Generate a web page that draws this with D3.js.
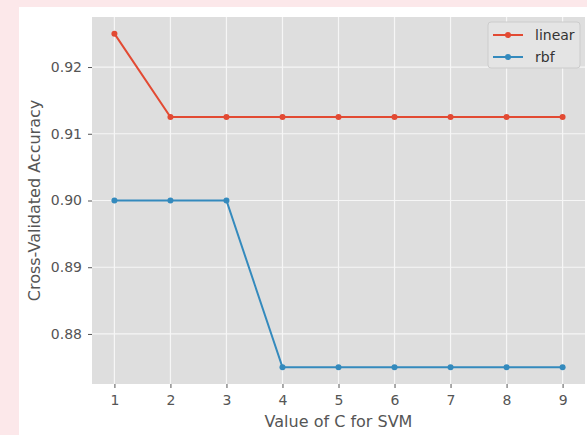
<!DOCTYPE html>
<html>
<head>
<meta charset="utf-8">
<script src="https://cdn.jsdelivr.net/npm/d3@7"></script>
<style>
  body { margin: 0; background: #fce8ea; }
  svg { display: block; }
  text { font-family: "DejaVu Sans", sans-serif; }
  .axes .domain { display: none; }
  .axes text { fill: #555555; font-size: 14px; }
  .axes line { stroke: #555555; }
</style>
</head>
<body>
<div id="chart"></div>
<script>
// data
var cValues = [1, 2, 3, 4, 5, 6, 7, 8, 9];
var linearScores = [0.925, 0.9125, 0.9125, 0.9125, 0.9125, 0.9125, 0.9125, 0.9125, 0.9125];
var rbfScores = [0.9, 0.9, 0.9, 0.875, 0.875, 0.875, 0.875, 0.875, 0.875];
var yTicks = [0.88, 0.89, 0.90, 0.91, 0.92];
var seriesNames = ["linear", "rbf"];
var seriesColors = ["#E24A33", "#348ABD"];

var width = 587, height = 435;
var plot = {left: 92, right: 585, top: 17, bottom: 384};

var svg = d3.select("#chart").append("svg")
    .attr("width", width)
    .attr("height", height);

// pink page border, white figure
svg.append("rect")
    .attr("x", 0).attr("y", 0)
    .attr("width", width).attr("height", height)
    .attr("fill", "#fce8ea");
svg.append("rect")
    .attr("x", 19).attr("y", 7)
    .attr("width", width - 19).attr("height", height - 7)
    .attr("fill", "#ffffff");

// Scales (matplotlib style 5% margins)
var xPad = (d3.max(cValues) - d3.min(cValues)) * 0.05;
var xScale = d3.scaleLinear()
    .domain([d3.min(cValues) - xPad, d3.max(cValues) + xPad])
    .range([plot.left, plot.right]);

var allY = linearScores.concat(rbfScores);
var yPad = (d3.max(allY) - d3.min(allY)) * 0.05;
var yScale = d3.scaleLinear()
    .domain([d3.min(allY) - yPad, d3.max(allY) + yPad])
    .range([plot.bottom, plot.top]);

// plot background
svg.append("rect")
    .attr("x", plot.left).attr("y", plot.top)
    .attr("width", plot.right - plot.left)
    .attr("height", plot.bottom - plot.top)
    .attr("fill", "#dedede");

// grid
svg.append("g").selectAll("line.vgrid")
    .data(cValues).enter().append("line")
    .attr("x1", function(d) { return xScale(d); })
    .attr("x2", function(d) { return xScale(d); })
    .attr("y1", plot.top).attr("y2", plot.bottom)
    .attr("stroke", "#f6f6f6").attr("stroke-width", 1.2);
svg.append("g").selectAll("line.hgrid")
    .data(yTicks).enter().append("line")
    .attr("y1", function(d) { return yScale(d); })
    .attr("y2", function(d) { return yScale(d); })
    .attr("x1", plot.left).attr("x2", plot.right)
    .attr("stroke", "#f6f6f6").attr("stroke-width", 1.2);

// Axes
var xAxis = d3.axisBottom(xScale)
    .tickValues(cValues)
    .tickFormat(d3.format("d"))
    .tickSize(4)
    .tickPadding(7);
svg.append("g")
    .attr("class", "x-axis axes")
    .attr("transform", "translate(0," + plot.bottom + ")")
    .call(xAxis);

var yAxis = d3.axisLeft(yScale)
    .tickValues(yTicks)
    .tickFormat(d3.format(".2f"))
    .tickSize(4)
    .tickPadding(6);
svg.append("g")
    .attr("class", "y-axis axes")
    .attr("transform", "translate(" + plot.left + ",0)")
    .call(yAxis);

// axis labels
svg.append("text")
    .attr("x", (plot.left + plot.right) / 2)
    .attr("y", 427)
    .style("text-anchor", "middle")
    .style("font-size", "16px")
    .attr("fill", "#555555")
    .text("Value of C for SVM");

svg.append("text")
    .attr("transform", "translate(40," + ((plot.top + plot.bottom) / 2) + ")rotate(-90)")
    .style("text-anchor", "middle")
    .style("font-size", "16px")
    .attr("fill", "#555555")
    .text("Cross-Validated Accuracy");

// lines
var series = [linearScores, rbfScores];
var line = d3.line()
    .x(function(d, i) { return xScale(cValues[i]); })
    .y(function(d) { return yScale(d); });

series.forEach(function(s, k) {
    svg.append("path")
        .datum(s)
        .attr("d", line)
        .attr("fill", "none")
        .attr("stroke", seriesColors[k])
        .attr("stroke-width", 2);
    svg.append("g").selectAll("circle")
        .data(s).enter().append("circle")
        .attr("cx", function(d, i) { return xScale(cValues[i]); })
        .attr("cy", function(d) { return yScale(d); })
        .attr("r", 3)
        .attr("fill", seriesColors[k]);
});

// legend
var legend = svg.append("g").attr("transform", "translate(488,22)");
legend.append("rect")
    .attr("width", 92).attr("height", 46)
    .attr("rx", 3)
    .attr("fill", "#e4e4e4")
    .attr("stroke", "#cccccc")
    .attr("stroke-width", 1);
seriesNames.forEach(function(name, k) {
    var y = 13 + k * 22;
    legend.append("line")
        .attr("x1", 5).attr("x2", 35)
        .attr("y1", y).attr("y2", y)
        .attr("stroke", seriesColors[k]).attr("stroke-width", 2);
    legend.append("circle")
        .attr("cx", 20).attr("cy", y).attr("r", 3)
        .attr("fill", seriesColors[k]);
    legend.append("text")
        .attr("x", 47).attr("y", y + 5)
        .style("font-size", "14px")
        .attr("fill", "#333333")
        .text(name);
});
</script>
</body>
</html>
